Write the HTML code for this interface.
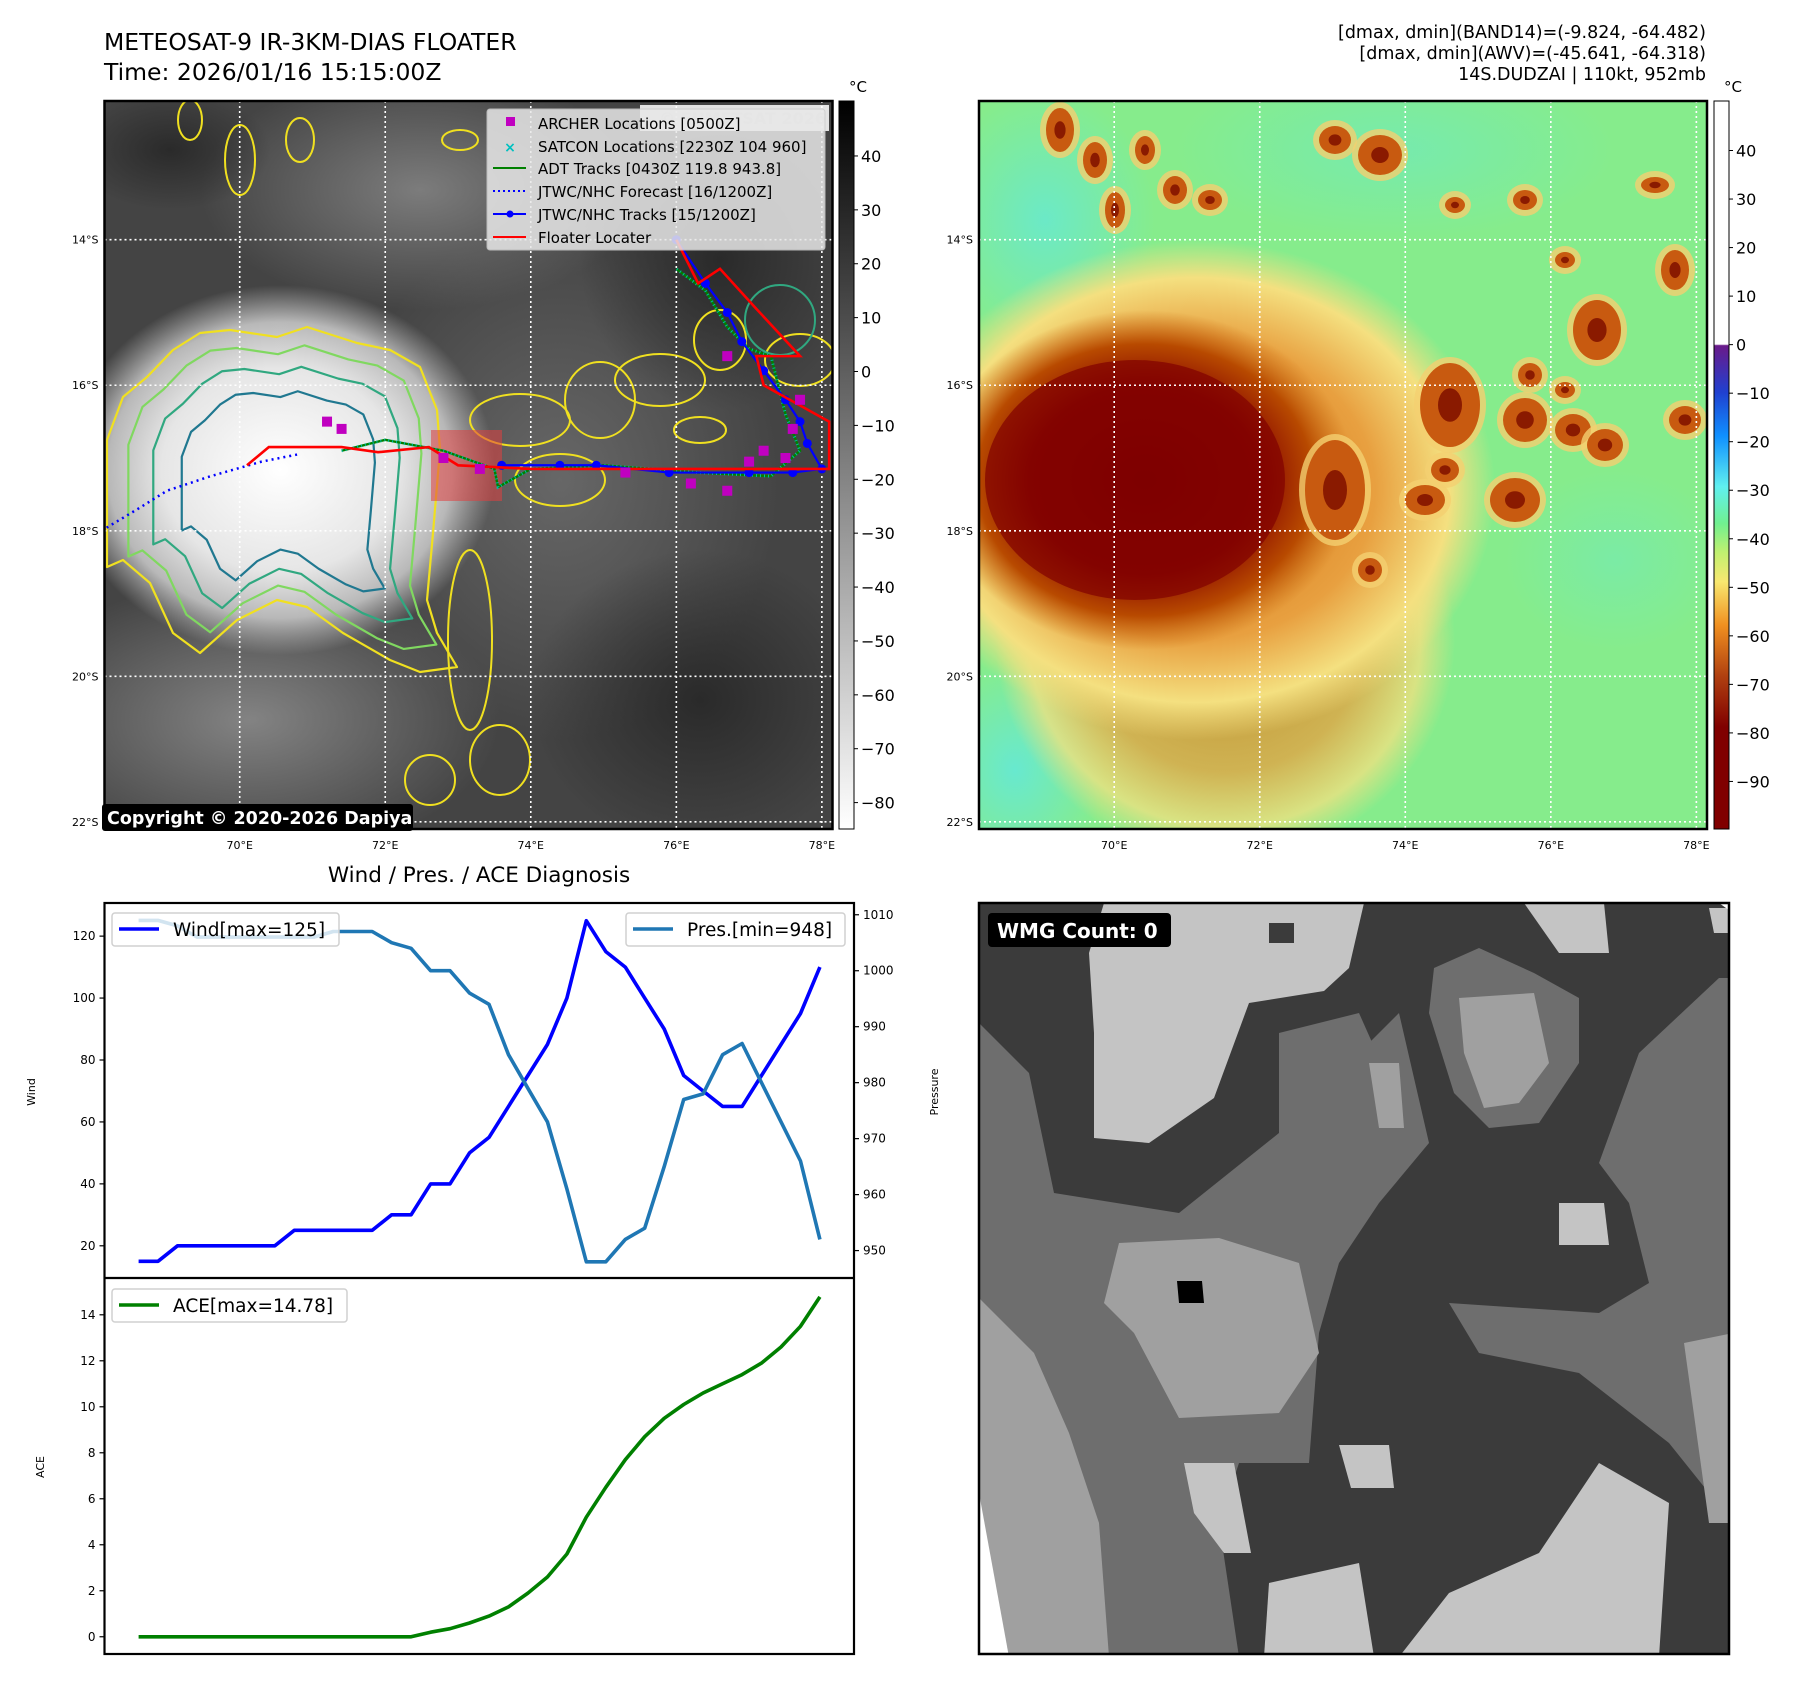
<!DOCTYPE html>
<html><head><meta charset="utf-8"><title>METEOSAT-9 IR Floater</title>
<style>
html,body{margin:0;padding:0;background:#fff;}
svg{display:block;font-family:"DejaVu Sans","Liberation Sans",sans-serif;}
</style></head>
<body>
<svg id="fig" width="1797" height="1690" viewBox="0 0 1797 1690" xmlns="http://www.w3.org/2000/svg">
<defs>
  <radialGradient id="irBlob" cx="0.5" cy="0.5" r="0.5">
    <stop offset="0" stop-color="#ffffff"/><stop offset="0.55" stop-color="#e6e6e6"/><stop offset="0.8" stop-color="#b8b8b8"/><stop offset="1" stop-color="#b0b0b0" stop-opacity="0"/>
  </radialGradient>
  <radialGradient id="redCore" cx="0.5" cy="0.5" r="0.5">
    <stop offset="0" stop-color="#7a0000"/><stop offset="0.55" stop-color="#8a0a00"/><stop offset="0.8" stop-color="#b84a00"/><stop offset="1" stop-color="#c86a10" stop-opacity="0"/>
  </radialGradient>
  <radialGradient id="orangeHalo" cx="0.5" cy="0.5" r="0.5">
    <stop offset="0" stop-color="#d07010"/><stop offset="0.6" stop-color="#e8a040"/><stop offset="0.85" stop-color="#f4e080"/><stop offset="1" stop-color="#f4e080" stop-opacity="0"/>
  </radialGradient>
  <radialGradient id="cyanPatch" cx="0.5" cy="0.5" r="0.5">
    <stop offset="0" stop-color="#60e8e0"/><stop offset="1" stop-color="#60e8e0" stop-opacity="0"/>
  </radialGradient>
  <radialGradient id="darkPatch" cx="0.5" cy="0.5" r="0.5">
    <stop offset="0" stop-color="#2a2a2a"/><stop offset="1" stop-color="#2a2a2a" stop-opacity="0"/>
  </radialGradient>
  <radialGradient id="grayPatch" cx="0.5" cy="0.5" r="0.5">
    <stop offset="0" stop-color="#8a8a8a"/><stop offset="1" stop-color="#8a8a8a" stop-opacity="0"/>
  </radialGradient>
  <linearGradient id="cbGray" x1="0" y1="0" x2="0" y2="1">
    <stop offset="0" stop-color="#000"/><stop offset="1" stop-color="#fff"/>
  </linearGradient>
  <linearGradient id="cbColor" x1="0" y1="0" x2="0" y2="1">
    <stop offset="0" stop-color="#ffffff"/><stop offset="0.334" stop-color="#ffffff"/>
    <stop offset="0.336" stop-color="#6a1a8a"/><stop offset="0.40" stop-color="#2040d0"/>
    <stop offset="0.46" stop-color="#1090ff"/><stop offset="0.53" stop-color="#60f0f0"/>
    <stop offset="0.58" stop-color="#70f090"/><stop offset="0.62" stop-color="#c0f070"/>
    <stop offset="0.66" stop-color="#f8e870"/><stop offset="0.72" stop-color="#f09020"/>
    <stop offset="0.79" stop-color="#b04010"/><stop offset="0.86" stop-color="#800000"/>
    <stop offset="1" stop-color="#800000"/>
  </linearGradient>
  <clipPath id="clipL"><rect x="104.5" y="101" width="728" height="728"/></clipPath>
  <clipPath id="clipR"><rect x="979" y="101" width="728" height="728"/></clipPath>
  <clipPath id="clipW"><rect x="0" y="0" width="750" height="750"/></clipPath>
</defs>

<!-- Titles -->
<text x="104" y="50" font-size="23.5" fill="#000">METEOSAT-9 IR-3KM-DIAS FLOATER</text>
<text x="104" y="80" font-size="23.5" fill="#000">Time: 2026/01/16 15:15:00Z</text>
<g font-size="17.5" text-anchor="end" fill="#000">
  <text x="1706" y="38">[dmax, dmin](BAND14)=(-9.824, -64.482)</text>
  <text x="1706" y="59">[dmax, dmin](AWV)=(-45.641, -64.318)</text>
  <text x="1706" y="80">14S.DUDZAI | 110kt, 952mb</text>
</g>

<!-- LEFT IR MAP -->
<g id="mapL">
  <g clip-path="url(#clipL)">
    <rect x="104.5" y="101" width="728" height="728" fill="#444"/>
    <ellipse cx="420" cy="190" rx="220" ry="120" fill="url(#grayPatch)" opacity="0.8"/>
    <ellipse cx="560" cy="480" rx="220" ry="260" fill="url(#grayPatch)" opacity="0.5"/>
    <ellipse cx="250" cy="720" rx="250" ry="140" fill="url(#grayPatch)" opacity="0.9"/>
    <ellipse cx="720" cy="260" rx="140" ry="150" fill="url(#darkPatch)"/>
    <ellipse cx="700" cy="700" rx="170" ry="150" fill="url(#darkPatch)"/>
    <ellipse cx="170" cy="150" rx="100" ry="60" fill="url(#darkPatch)"/>
    <ellipse cx="280" cy="470" rx="215" ry="185" fill="url(#irBlob)"/>
    <g id="contoursL"></g>
    <rect x="431" y="430" width="71" height="71" fill="#e04040" opacity="0.55"/>
    <g id="gridL"></g>
    <g id="tracksL"></g>
  </g>
  <rect x="104.5" y="101" width="728" height="728" fill="none" stroke="#000" stroke-width="2.5"/>
  <g id="ticksL" font-size="11" fill="#000"></g>
  <rect x="640" y="105" width="189" height="26" fill="#fff" opacity="0.85"/>
  <text x="826" y="124" font-size="16" font-weight="bold" fill="#d8d8d8" text-anchor="end">© EUMETSAT 2026</text>
  <g>
    <rect x="487" y="109" width="338" height="141" rx="3" fill="#e8e8e8" opacity="0.85" stroke="#ccc"/>
    <rect x="506" y="117" width="9" height="9" fill="#c000c0"/>
    <text x="538" y="129" font-size="15">ARCHER Locations [0500Z]</text>
    <text x="510" y="152" font-size="14" font-weight="bold" fill="#00c0c0" text-anchor="middle">×</text>
    <text x="538" y="152" font-size="15">SATCON Locations [2230Z 104 960]</text>
    <line x1="493" y1="168" x2="526" y2="168" stroke="#008000" stroke-width="2"/>
    <text x="538" y="174" font-size="15">ADT Tracks [0430Z 119.8 943.8]</text>
    <line x1="493" y1="191" x2="526" y2="191" stroke="#0000ff" stroke-width="2" stroke-dasharray="2,3"/>
    <text x="538" y="197" font-size="15">JTWC/NHC Forecast [16/1200Z]</text>
    <line x1="493" y1="214" x2="526" y2="214" stroke="#0000ff" stroke-width="2"/>
    <circle cx="510" cy="214" r="3.5" fill="#0000ff"/>
    <text x="538" y="220" font-size="15">JTWC/NHC Tracks [15/1200Z]</text>
    <line x1="493" y1="237" x2="526" y2="237" stroke="#ff0000" stroke-width="2"/>
    <text x="538" y="243" font-size="15">Floater Locater</text>
  </g>
  <rect x="102" y="804" width="311" height="27" rx="3" fill="#000"/>
  <text x="107" y="824" font-size="17.5" font-weight="bold" fill="#fff">Copyright © 2020-2026 Dapiya</text>
</g>
<g>
  <rect x="839" y="101" width="15" height="728" fill="url(#cbGray)" stroke="#000" stroke-width="1"/>
  <text x="858" y="92" font-size="15" text-anchor="middle">°C</text>
  <g id="cbTicksL" font-size="16"></g>
</g>

<!-- RIGHT COLOR MAP -->
<g>
  <g clip-path="url(#clipR)">
    <rect x="979" y="101" width="728" height="728" fill="#86ec8c"/>
    <ellipse cx="1045" cy="220" rx="110" ry="130" fill="url(#cyanPatch)" opacity="0.7"/>
    <ellipse cx="1395" cy="150" rx="220" ry="90" fill="url(#cyanPatch)" opacity="0.4"/>
    <ellipse cx="1015" cy="770" rx="90" ry="110" fill="url(#cyanPatch)" opacity="0.8"/>
    <ellipse cx="1615" cy="560" rx="110" ry="90" fill="url(#cyanPatch)" opacity="0.3"/>
    <ellipse cx="1225" cy="640" rx="230" ry="220" fill="url(#orangeHalo)" opacity="0.75"/>
    <ellipse cx="1195" cy="490" rx="300" ry="250" fill="url(#orangeHalo)"/>
    <ellipse cx="1145" cy="480" rx="210" ry="170" fill="url(#redCore)"/>
    <ellipse cx="1135" cy="480" rx="150" ry="120" fill="#800000" opacity="0.7"/>
    <g id="cellsR"></g>
    <g id="gridR"></g>
  </g>
  <rect x="979" y="101" width="728" height="728" fill="none" stroke="#000" stroke-width="2.5"/>
  <g id="ticksR" font-size="11" fill="#000"></g>
</g>
<g>
  <rect x="1714" y="101" width="15" height="728" fill="url(#cbColor)" stroke="#000" stroke-width="1"/>
  <text x="1733" y="92" font-size="15" text-anchor="middle">°C</text>
  <g id="cbTicksR" font-size="16"></g>
</g>

<!-- WIND / PRES / ACE -->
<text x="479" y="882" font-size="21.5" text-anchor="middle">Wind / Pres. / ACE Diagnosis</text>
<g id="chart"></g>

<!-- WMG panel -->
<g>
  <g transform="translate(979,903)">
   <g clip-path="url(#clipW)">
    <rect x="0" y="0" width="750" height="750" fill="#3b3b3b"/>
    <polygon fill="#6e6e6e" points="0,120 50,170 75,290 200,310 300,230 420,110 450,240 400,300 360,360 340,430 330,560 260,560 240,620 260,754 0,754"/>
    <polygon fill="#6e6e6e" points="455,65 500,45 555,70 600,95 600,160 560,220 510,225 475,190 450,110"/>
    <polygon fill="#6e6e6e" points="620,260 660,150 740,75 754,75 754,620 690,540 600,470 500,450 470,400 620,410 670,380 650,300"/>
    <polygon fill="#6e6e6e" points="300,130 380,110 420,200 360,230 300,240"/>
    <polygon fill="#a0a0a0" points="140,340 240,335 320,360 340,450 300,510 200,515 155,430 125,400"/>
    <polygon fill="#a0a0a0" points="480,95 555,90 570,160 540,200 505,205 485,150"/>
    <polygon fill="#a0a0a0" points="390,160 420,160 425,225 400,225"/>
    <polygon fill="#a0a0a0" points="0,395 55,450 90,530 120,620 130,754 30,754 0,600"/>
    <polygon fill="#a0a0a0" points="705,440 754,430 754,620 730,620"/>
    <polygon fill="#c4c4c4" points="125,0 385,0 370,65 345,88 270,100 235,195 170,240 115,235 115,130 110,50"/>
    <polygon fill="#c4c4c4" points="545,0 625,0 630,50 580,50"/>
    <polygon fill="#c4c4c4" points="730,5 754,5 754,30 735,30"/>
    <polygon fill="#c4c4c4" points="420,754 470,690 560,650 620,560 690,600 680,754"/>
    <polygon fill="#c4c4c4" points="290,680 380,660 395,754 285,754"/>
    <polygon fill="#c4c4c4" points="205,560 255,560 272,650 245,650 215,610"/>
    <polygon fill="#c4c4c4" points="360,542 410,542 415,585 372,585"/>
    <polygon fill="#c4c4c4" points="580,300 625,300 630,342 580,342"/>
    <polygon fill="#3b3b3b" points="290,20 315,20 315,40 290,40"/>
    <polygon fill="#000" points="198,378 223,378 225,400 200,400"/>
    <polygon fill="#ffffff" points="0,590 30,754 0,754"/>
    <polygon fill="#ffffff" points="740,0 754,0 754,10"/>
   </g>
  </g>
  <rect x="979" y="903" width="750" height="751" fill="none" stroke="#000" stroke-width="2.5"/>
  <rect x="988" y="913" width="183" height="34" rx="4" fill="#000"/>
  <text x="997" y="938" font-size="20" font-weight="bold" fill="#fff">WMG Count: 0</text>
</g>

<script>
var NS='http://www.w3.org/2000/svg';
function mk(tag,attrs,parent){var e=document.createElementNS(NS,tag);for(var k in attrs)e.setAttribute(k,attrs[k]);if(parent)parent.appendChild(e);return e;}

var lonTicks=[70,72,74,76,78];
var latTicks=[14,16,18,20,22];
function mx(ox,lon){return ox+135.2+(lon-70)*72.77;}
function my(lat){return 101+138.7+(lat-14)*72.77;}

function drawGrid(ox,gid,tid){
  var g=document.getElementById(gid),t=document.getElementById(tid);
  lonTicks.forEach(function(lo){
    var x=mx(ox,lo);
    var l=mk('line',{x1:x,y1:101,x2:x,y2:829,stroke:'#fff','stroke-width':1.6,'stroke-dasharray':'2,3'},g);
    
    
    var tx=mk('text',{x:x,y:849,'text-anchor':'middle'},t);tx.textContent=lo+'°E';
    
    
  });
  latTicks.forEach(function(la){
    var y=my(la);
    var l=mk('line',{x1:ox,y1:y,x2:ox+728,y2:y,stroke:'#fff','stroke-width':1.6,'stroke-dasharray':'2,3'},g);
    
    
    var tx=mk('text',{x:ox-6,y:y+4,'text-anchor':'end'},t);tx.textContent=la+'°S';
    
    
  });
}
drawGrid(104.5,'gridL','ticksL');
drawGrid(979,'gridR','ticksR');

var cbLTicks=[40,30,20,10,0,-10,-20,-30,-40,-50,-60,-70,-80];
var cbRTicks=[40,30,20,10,0,-10,-20,-30,-40,-50,-60,-70,-80,-90];
function drawCb(id,ticks,x,vTop,vBot){
  var g=document.getElementById(id);
  ticks.forEach(function(v){
    var y=101+(vTop-v)/(vTop-vBot)*728;
    mk('line',{x1:x+15,y1:y,x2:x+19,y2:y,stroke:'#000','stroke-width':1},g);
    var t=mk('text',{x:x+22,y:y+6},g);t.textContent=(v<0?'−'+(-v):v);
    
    
  });
}
drawCb('cbTicksL',cbLTicks,839,50.2,-84.9);
drawCb('cbTicksR',cbRTicks,1714,50.2,-99.8);

var outer=[[107,440],[123,397],[147,377],[173,350],[200,333],[230,330],[277,337],[307,327],[357,343],[390,350],[420,367],[437,410],[440,450],[433,533],[427,600],[437,633],[457,667],[420,672],[390,660],[343,633],[307,607],[277,600],[237,620],[200,653],[173,633],[150,583],[123,560],[107,567]];
var ccx=285,ccy=480;
var levels=[{s:1,c:'#f0e020'},{s:0.88,c:'#80d860'},{s:0.74,c:'#30a880'},{s:0.58,c:'#207890'}];
var cg=document.getElementById('contoursL');
levels.forEach(function(lv){
  var d=outer.map(function(p,i){return (i?'L':'M')+(ccx+(p[0]-ccx)*lv.s)+','+(ccy+(p[1]-ccy)*lv.s);}).join(' ')+'Z';
  mk('path',{d:d,fill:'none',stroke:lv.c,'stroke-width':2.2,'stroke-linejoin':'round'},cg);
});
var blobs=[[470,640,22,90,'#f0e020'],[520,420,50,26,'#f0e020'],[600,400,35,38,'#f0e020'],[660,380,45,26,'#f0e020'],[720,340,26,30,'#f0e020'],[800,360,35,26,'#f0e020'],[240,160,15,35,'#f0e020'],[300,140,14,22,'#f0e020'],[460,140,18,10,'#f0e020'],[190,120,12,20,'#f0e020'],[700,430,26,13,'#f0e020'],[560,480,45,26,'#f0e020'],[500,760,30,35,'#f0e020'],[430,780,25,25,'#f0e020'],[780,320,35,35,'#30a880']];
blobs.forEach(function(b){mk('ellipse',{cx:b[0],cy:b[1],rx:b[2],ry:b[3],fill:'none',stroke:b[4],'stroke-width':2},cg);});

var tg=document.getElementById('tracksL');
function pl(pts,attrs){var d=pts.map(function(p,i){return (i?'L':'M')+mx(104.5,p[0])+','+my(p[1]);}).join(' ');attrs.d=d;attrs.fill='none';return mk('path',attrs,tg);}
var fcstLon=[68.1,68.6,69.0,69.6,70.3,70.8];
var fcstLat=[18.0,17.7,17.45,17.25,17.05,16.95];
var adtPts=[[71.4,16.9],[72.0,16.75],[72.8,16.9],[73.5,17.15],[73.55,17.4],[74.0,17.15],[75,17.1],[76.3,17.2],[77.3,17.25],[77.7,16.9],[77.5,16.4],[77.3,15.6],[77.0,15.5],[76.7,15.2],[76.4,14.7],[76.0,14.4]];
var jtwcLon=[73.6,74.4,74.9,75.9,77.0,77.6,78.0,77.8,77.7,77.5,77.2,76.9,76.7,76.4,76.0];
var jtwcLat=[17.1,17.1,17.1,17.2,17.2,17.2,17.15,16.8,16.5,16.2,15.8,15.4,15.0,14.6,14.0];
var floaterPts=[[70.1,17.1],[70.4,16.85],[71.4,16.85],[71.9,16.92],[72.6,16.85],[73.0,17.1],[74.0,17.15],[78.1,17.15],[78.1,16.5],[77.2,16.0],[77.1,15.6],[77.7,15.6],[77.1,14.95],[76.6,14.4],[76.3,14.6],[76.0,14.0]];
var archerLon=[71.2,71.4,72.8,73.3,75.3,76.2,76.7,77.0,77.2,77.5,77.6,77.7,76.7];
var archerLat=[16.5,16.6,17.0,17.15,17.2,17.35,17.45,17.05,16.9,17.0,16.6,16.2,15.6];

var fc=pl(fcstLon.map(function(v,i){return [v,fcstLat[i]];}),{stroke:'#0000ff','stroke-width':2.5,'stroke-dasharray':'2,4'});


var ad=pl(adtPts,{stroke:'#008000','stroke-width':2.4});


var sat=pl(adtPts,{stroke:'#00c8c8','stroke-width':3,'stroke-dasharray':'1,3',opacity:0.8});


var jt=pl(jtwcLon.map(function(v,i){return [v,jtwcLat[i]];}),{stroke:'#0000ff','stroke-width':2.2});


jtwcLon.forEach(function(v,i){
  var c=mk('circle',{cx:mx(104.5,v),cy:my(jtwcLat[i]),r:4.5,fill:'#0000ff'},tg);
  
  
});
var fl=pl(floaterPts,{stroke:'#ff0000','stroke-width':2.6});


archerLon.forEach(function(v,i){
  var r=mk('rect',{x:mx(104.5,v)-5,y:my(archerLat[i])-5,width:10,height:10,fill:'#c000c0'},tg);
  
  
});

var cr=document.getElementById('cellsR');
var cells=[[1060,130,14,22],[1095,160,12,18],[1115,210,10,18],[1145,150,10,14],[1175,190,12,14],[1210,200,12,10],[1335,140,16,14],[1380,155,22,20],[1455,205,10,8],[1525,200,12,10],[1655,185,14,8],[1565,260,10,8],[1675,270,14,20],[1597,330,24,30],[1530,375,12,12],[1565,390,10,8],[1450,405,30,42],[1525,420,22,22],[1573,430,18,16],[1685,420,16,14],[1605,445,18,16],[1515,500,25,22],[1445,470,14,12],[1425,500,20,15],[1335,490,30,50],[1370,570,12,12]];
cells.forEach(function(c){
  mk('ellipse',{cx:c[0],cy:c[1],rx:c[2]+6,ry:c[3]+6,fill:'#f4d070',opacity:0.8},cr);
  mk('ellipse',{cx:c[0],cy:c[1],rx:c[2],ry:c[3],fill:'#c85a10'},cr);
  mk('ellipse',{cx:c[0],cy:c[1],rx:c[2]*0.4,ry:c[3]*0.4,fill:'#8a1a00'},cr);
});

/* ---------- diagnosis chart ---------- */
var windVals=[15,15,20,20,20,20,20,20,25,25,25,25,25,30,30,40,40,50,55,65,75,85,100,125,115,110,100,90,75,70,65,65,75,85,95,110];
var presVals=[1009,1009,1008,1006,1006,1006,1006,1006,1006,1006,1007,1007,1007,1005,1004,1000,1000,996,994,985,979,973,961,948,948,952,954,965,977,978,985,987,980,973,966,952];
var aceVals=[0,0,0,0,0,0,0,0,0,0,0,0,0,0,0,0.2,0.35,0.6,0.9,1.3,1.9,2.6,3.6,5.2,6.5,7.7,8.7,9.5,10.1,10.6,11.0,11.4,11.9,12.6,13.5,14.78];
var windTicks=[20,40,60,80,100,120];
var presTicks=[950,960,970,980,990,1000,1010];
var aceTicks=[0,2,4,6,8,10,12,14];

var CL=104.5,CR=854,T1=903,M1=1278,B1=1654;
var n=windVals.length;
var xMin=-1.75,xMax=(n-1)+1.75;
function X(i){return CL+(i-xMin)/(xMax-xMin)*(CR-CL);}
function Yw(v){var lo=9.6,hi=130.7;return M1-(v-lo)/(hi-lo)*(M1-T1);}
function Yp(v){var lo=945.1,hi=1012.1;return M1-(v-lo)/(hi-lo)*(M1-T1);}
function Ya(v){var lo=-0.75,hi=15.6;return B1-(v-lo)/(hi-lo)*(B1-M1);}
var ch=document.getElementById('chart');
function series(vals,yf,color,name){
  var d=vals.map(function(v,i){return (i?'L':'M')+X(i).toFixed(1)+','+yf(v).toFixed(1);}).join(' ');
  var p=mk('path',{d:d,fill:'none',stroke:color,'stroke-width':3.6,'stroke-linejoin':'round'},ch);
  
  
}
series(windVals,Yw,'#0000ff','wind-line');
series(presVals,Yp,'#1f77b4','pressure-line');
series(aceVals,Ya,'#008000','ace-line');
mk('rect',{x:CL,y:T1,width:CR-CL,height:B1-T1,fill:'none',stroke:'#000','stroke-width':2.2},ch);
mk('line',{x1:CL,y1:M1,x2:CR,y2:M1,stroke:'#000','stroke-width':2.2},ch);
function yTicks(ticks,yf,side){
  ticks.forEach(function(v){
    var y=yf(v);
    if(side==='L'){
      mk('line',{x1:CL-5,y1:y,x2:CL,y2:y,stroke:'#000','stroke-width':1.2},ch);
      var t=mk('text',{x:CL-9,y:y+4,'font-size':12,'text-anchor':'end'},ch);t.textContent=v;
      
      
    } else {
      mk('line',{x1:CR,y1:y,x2:CR+5,y2:y,stroke:'#000','stroke-width':1.2},ch);
      var t2=mk('text',{x:CR+9,y:y+4,'font-size':12},ch);t2.textContent=v;
      
      
    }
  });
}
yTicks(windTicks,Yw,'L');
yTicks(presTicks,Yp,'R');
yTicks(aceTicks,Ya,'L');
function ylab(txt,x,y,name){
  var t=mk('text',{x:x,y:y,'font-size':11,'text-anchor':'middle',transform:'rotate(-90 '+x+' '+y+')'},ch);t.textContent=txt;
  
  
}
ylab('Wind',35,1092,'wind-axis-title');
ylab('Pressure',938,1092,'pressure-axis-title');
ylab('ACE',44,1467,'ace-axis-title');
function legend(x,y,w,color,txt,name){
  var g=mk('g',{},ch);
  
  
  mk('rect',{x:x,y:y,width:w,height:33,rx:3,fill:'#fff','fill-opacity':0.8,stroke:'#d0d0d0','stroke-width':1.5},g);
  mk('line',{x1:x+7,y1:y+16,x2:x+47,y2:y+16,stroke:color,'stroke-width':3.6},g);
  var t=mk('text',{x:x+61,y:y+23,'font-size':18.5},g);t.textContent=txt;
}
legend(112,913,227,'#0000ff','Wind[max='+Math.max.apply(null,windVals)+']','wind-legend');
legend(626,913,219,'#1f77b4','Pres.[min='+Math.min.apply(null,presVals)+']','pressure-legend');
legend(112,1289,235,'#008000','ACE[max='+Math.max.apply(null,aceVals)+']','ace-legend');
</script>
</svg>
</body></html>
